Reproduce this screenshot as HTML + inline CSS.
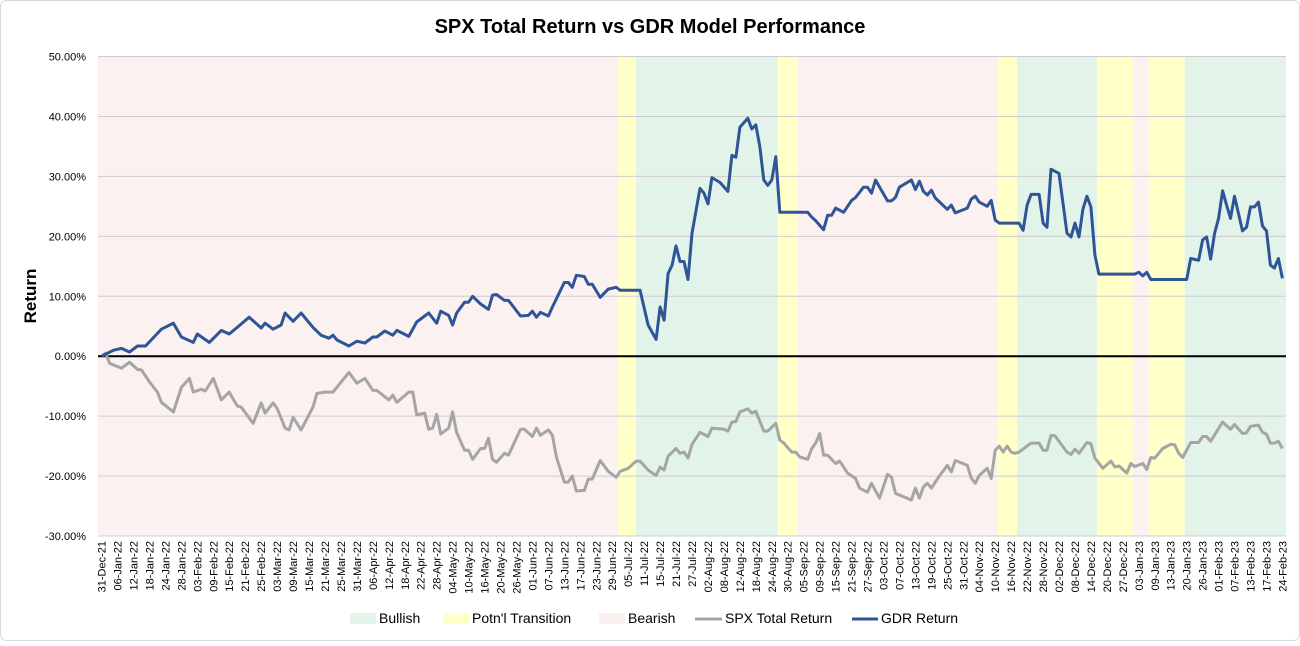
<!DOCTYPE html>
<html><head><meta charset="utf-8"><style>
html,body{margin:0;padding:0;background:#fff;}
body{width:1300px;height:641px;overflow:hidden;font-family:"Liberation Sans",sans-serif;}
</style></head><body>
<svg id="chart" width="1300" height="641" xmlns="http://www.w3.org/2000/svg" font-family="Liberation Sans, sans-serif">
<rect x="0.5" y="0.5" width="1299" height="640" rx="6" fill="#fff" stroke="#d9d9d9"/>
<text x="650" y="33" text-anchor="middle" font-size="20" font-weight="bold" fill="#000">SPX Total Return vs GDR Model Performance</text>
<g id="bands"></g><g id="grid"></g><g id="series"></g><g id="yticks"></g><g id="xticks"></g>
<text transform="translate(36,296) rotate(-90)" text-anchor="middle" font-size="17" font-weight="bold" fill="#000">Return</text>
<g font-size="14" fill="#000">
<rect x="350" y="613" width="26" height="11" fill="#e2f4ea"/>
<text x="379" y="623">Bullish</text>
<rect x="443" y="613" width="26" height="11" fill="#ffffc8"/>
<text x="472" y="623">Potn'l Transition</text>
<rect x="599" y="613" width="26" height="11" fill="#fbf0f0"/>
<text x="628" y="623">Bearish</text>
<line x1="695" y1="619" x2="722" y2="619" stroke="#a5a5a5" stroke-width="3"/>
<text x="725" y="623">SPX Total Return</text>
<line x1="852" y1="619" x2="878" y2="619" stroke="#2f5597" stroke-width="3"/>
<text x="881" y="623">GDR Return</text>
</g>
</svg>
<script>
const xLabels=["31-Dec-21","06-Jan-22","12-Jan-22","18-Jan-22","24-Jan-22","28-Jan-22","03-Feb-22","09-Feb-22","15-Feb-22","21-Feb-22","25-Feb-22","03-Mar-22","09-Mar-22","15-Mar-22","21-Mar-22","25-Mar-22","31-Mar-22","06-Apr-22","12-Apr-22","18-Apr-22","22-Apr-22","28-Apr-22","04-May-22","10-May-22","16-May-22","20-May-22","26-May-22","01-Jun-22","07-Jun-22","13-Jun-22","17-Jun-22","23-Jun-22","29-Jun-22","05-Jul-22","11-Jul-22","15-Jul-22","21-Jul-22","27-Jul-22","02-Aug-22","08-Aug-22","12-Aug-22","18-Aug-22","24-Aug-22","30-Aug-22","05-Sep-22","09-Sep-22","15-Sep-22","21-Sep-22","27-Sep-22","03-Oct-22","07-Oct-22","13-Oct-22","19-Oct-22","25-Oct-22","31-Oct-22","04-Nov-22","10-Nov-22","16-Nov-22","22-Nov-22","28-Nov-22","02-Dec-22","08-Dec-22","14-Dec-22","20-Dec-22","27-Dec-22","03-Jan-23","09-Jan-23","13-Jan-23","20-Jan-23","26-Jan-23","01-Feb-23","07-Feb-23","13-Feb-23","17-Feb-23","24-Feb-23"];
const yTicks=[50,40,30,20,10,0,-10,-20,-30];
const bandStart=[-0.9,129.5,134,169.5,174.5,224.5,229.5,249.5,258.5,262.5,271.5];
const bandEnd=[129.5,134,169.5,174.5,224.5,229.5,249.5,258.5,262.5,271.5,296.9];
const bandType=["bear","trans","bull","trans","bear","trans","bull","trans","bear","trans","bull"];
const gdrDays=[0,3,5,7,9,11,15,18,20,23,24,27,30,32,34,37,40,41,43,45,46,48,50,53,55,57,58,59,62,64,66,68,69,71,73,74,77,79,82,84,85,87,88,89,91,92,93,95,97,98,99,101,102,105,107,108,109,110,112,113,116,117,118,119,121,122,123,125,127,129,130,135,137,139,140,141,142,143,144,145,146,147,148,150,151,152,153,155,157,158,159,160,162,163,164,165,166,167,168,169,170,177,178,179,181,182,183,184,186,188,189,191,192,193,194,197,198,199,200,203,204,205,206,207,208,209,212,213,214,217,218,219,220,222,223,224,225,230,231,232,233,235,236,237,238,240,242,243,244,245,246,247,248,249,250,259,260,261,262,263,272,273,275,276,277,278,279,280,281,282,283,284,286,287,288,289,290,291,292,293,294,295,296];
const gdrValues=[0,1.0,1.3,0.7,1.7,1.7,4.5,5.5,3.2,2.3,3.7,2.3,4.3,3.7,4.8,6.5,4.7,5.5,4.5,5.2,7.2,5.8,7.2,4.8,3.5,3.0,3.5,2.7,1.7,2.5,2.2,3.2,3.2,4.2,3.5,4.3,3.3,5.7,7.2,5.5,7.5,6.8,5.2,7.2,9.0,9.0,10.0,8.7,7.8,10.2,10.3,9.3,9.3,6.7,6.8,7.5,6.5,7.3,6.7,8.2,12.3,12.3,11.5,13.5,13.3,12.0,12.0,9.8,11.2,11.5,11.0,11.0,5.2,2.8,8.2,6.0,13.8,15.2,18.4,15.8,15.8,12.8,20.5,28.0,27.2,25.4,29.8,29.0,27.5,33.5,33.2,38.2,39.7,37.9,38.6,35.0,29.4,28.5,29.4,33.3,24.0,24.0,23.2,22.6,21.1,23.5,23.5,24.7,24.0,26.0,26.5,28.2,28.2,27.2,29.4,25.9,25.9,26.5,28.2,29.4,27.8,29.2,27.5,26.9,27.7,26.4,24.5,25.2,23.9,24.7,26.2,26.7,25.7,25.0,26.0,22.7,22.2,22.2,21.0,25.2,27.0,27.0,22.2,21.5,31.2,30.5,20.5,19.9,22.2,19.9,24.5,26.7,24.9,16.9,13.7,13.7,14.0,13.4,14.0,12.8,12.8,16.3,16.0,19.4,19.9,16.2,20.5,23.0,27.6,25.2,23.0,26.7,20.9,21.5,24.9,24.9,25.7,21.7,20.9,15.2,14.7,16.3,13.0];
const spxDays=[0,1,2,5,7,9,10,12,14,15,18,20,22,23,25,26,28,30,32,34,35,38,40,41,43,44,46,47,48,50,53,54,56,58,62,64,66,68,69,72,73,74,77,78,79,81,82,83,84,85,87,88,89,91,92,93,95,96,97,98,99,101,102,105,106,108,109,110,112,113,114,116,117,118,119,121,122,123,125,127,129,130,132,134,135,137,139,140,141,142,144,145,146,147,148,150,152,153,156,157,158,159,160,162,163,164,166,167,169,170,171,173,174,175,177,178,179,180,181,182,184,185,187,189,190,192,193,195,197,198,199,203,204,205,206,207,208,210,212,213,214,217,218,219,220,222,223,224,225,226,227,228,229,230,233,235,236,237,238,239,242,243,244,245,247,248,249,251,253,254,255,257,258,259,261,262,263,264,266,268,269,270,271,273,275,276,277,278,281,283,284,286,287,288,290,291,292,293,294,295,296];
const spxValues=[0,0.5,-1.2,-2.0,-1.0,-2.2,-2.3,-4.3,-6.0,-7.7,-9.3,-5.2,-3.7,-6.0,-5.5,-5.8,-3.7,-7.3,-6.0,-8.3,-8.5,-11.2,-7.8,-9.5,-7.8,-8.7,-12.0,-12.3,-10.2,-12.3,-8.5,-6.2,-6.0,-6.0,-2.7,-4.5,-3.7,-5.7,-5.7,-7.3,-6.5,-7.7,-6.0,-6.0,-9.8,-9.5,-12.2,-12.0,-9.7,-13.0,-12.0,-9.3,-12.7,-15.7,-15.7,-17.2,-15.4,-15.4,-13.7,-17.2,-17.7,-16.2,-16.5,-12.2,-12.2,-13.4,-12.0,-13.2,-12.3,-13.2,-16.8,-21.0,-21.0,-20.0,-22.5,-22.4,-20.5,-20.5,-17.4,-19.2,-20.2,-19.2,-18.7,-17.5,-17.5,-19.0,-19.9,-18.5,-19.0,-16.7,-15.4,-16.2,-16.0,-17.0,-14.7,-12.7,-13.4,-12.0,-12.2,-12.5,-11.0,-10.9,-9.3,-8.8,-9.5,-9.2,-12.5,-12.5,-11.2,-14.0,-14.5,-16.0,-16.0,-16.8,-17.2,-15.4,-14.5,-12.9,-16.5,-16.5,-17.9,-17.5,-19.5,-20.4,-22.0,-22.7,-21.2,-23.7,-19.7,-20.2,-22.9,-24.0,-22.0,-23.7,-21.8,-21.2,-22.0,-20.0,-18.2,-19.3,-17.4,-18.2,-20.3,-21.2,-19.9,-18.7,-20.4,-15.7,-15.0,-16.0,-15.0,-16.0,-16.2,-16.0,-14.5,-14.5,-15.7,-15.7,-13.2,-13.3,-16.0,-16.4,-15.5,-16.2,-14.4,-14.6,-17.0,-18.7,-17.5,-18.5,-18.3,-19.5,-17.9,-18.4,-17.9,-18.9,-16.9,-17.0,-15.4,-14.7,-14.8,-16.2,-16.9,-14.4,-14.4,-13.4,-13.4,-14.2,-11.0,-12.2,-11.4,-12.9,-12.8,-11.7,-11.5,-12.7,-13.0,-14.5,-14.5,-14.2,-15.4];

const NS="http://www.w3.org/2000/svg";
const L=98,R=1286,T=56.5,B=536;
const dMin=-0.9,dMax=296.9,vMin=-30,vMax=50;
function xS(d){return L+(d-dMin)/(dMax-dMin)*(R-L);}
function yS(v){return B-(v-vMin)/(vMax-vMin)*(B-T);}
function mk(tag,attrs,parent){const e=document.createElementNS(NS,tag);for(const k in attrs)e.setAttribute(k,attrs[k]);parent.appendChild(e);return e;}
const colors={bear:"#fbf1f1",trans:"#ffffc8",bull:"#e2f4ea"};
const gB=document.getElementById("bands");
for(let i=0;i<bandType.length;i++){
  const r=mk("rect",{x:xS(bandStart[i]),y:T,width:xS(bandEnd[i])-xS(bandStart[i]),height:B-T,fill:colors[bandType[i]]},gB);
  
  
}
const gG=document.getElementById("grid"),gY=document.getElementById("yticks");
yTicks.forEach(v=>{
  if(v!==0){const l=mk("line",{x1:L,x2:R,y1:yS(v),y2:yS(v),stroke:"#d0cccc","stroke-width":1},gG);
  
  }
  const t=mk("text",{x:86,y:yS(v)+4,"text-anchor":"end","font-size":"11",fill:"#000"},gY);
  t.textContent=v.toFixed(2)+"%";
  
  
});
const gX=document.getElementById("xticks");
xLabels.forEach((s,i)=>{
  const x=xS(i*4);
  const t=mk("text",{transform:`translate(${x+4},541) rotate(-90)`,"text-anchor":"end","font-size":"11",fill:"#000"},gX);
  t.textContent=s;
  
  
});
const gS=document.getElementById("series");
const zl=mk("line",{x1:L,x2:R,y1:yS(0),y2:yS(0),stroke:"#000","stroke-width":2},gS);


function line(days,vals,color,name){
  const p=days.map((d,i)=>(i?"L":"M")+xS(d).toFixed(1)+","+yS(vals[i]).toFixed(1)).join("");
  const e=mk("path",{d:p,fill:"none",stroke:color,"stroke-width":3,"stroke-linejoin":"round"},gS);
  
  
}
line(spxDays,spxValues,"#a5a5a5","spx-total-return-line");
line(gdrDays,gdrValues,"#2f5597","gdr-return-line");
</script>
</body></html>
